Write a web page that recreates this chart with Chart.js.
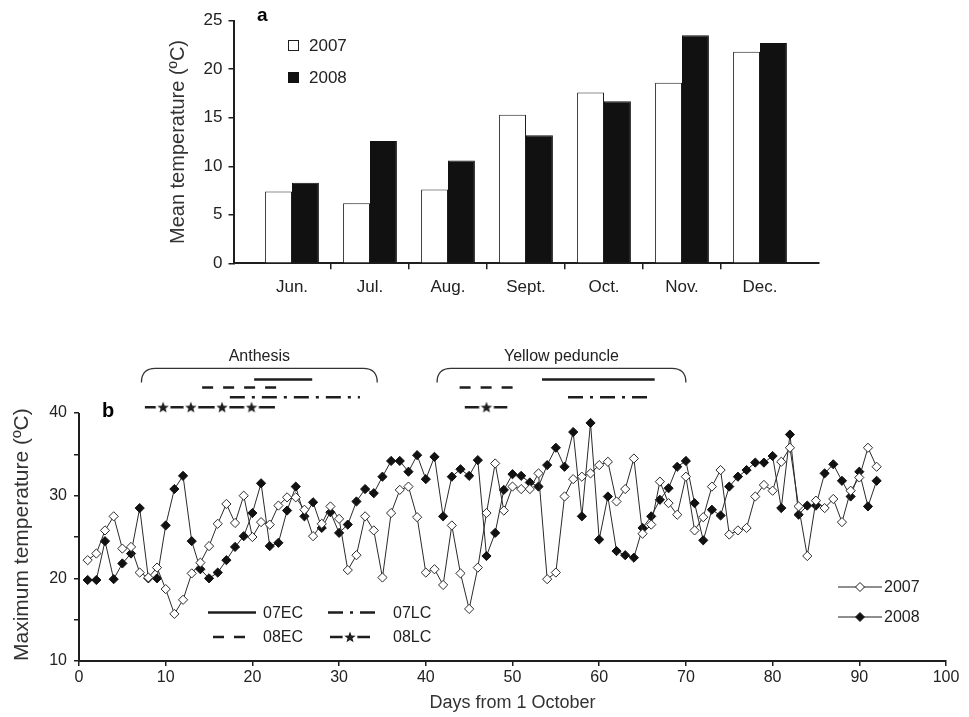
<!DOCTYPE html>
<html>
<head>
<meta charset="utf-8">
<script src="https://cdn.jsdelivr.net/npm/chart.js@4.4.1/dist/chart.umd.min.js"></script>
<style>
  html, body { margin: 0; padding: 0; background: #fff; }
  #wrap { position: relative; width: 969px; height: 717px; overflow: hidden; }
  #chartA { position: absolute; left: 0; top: 0; }
  #chartB { position: absolute; left: 0; top: 330px; }
</style>
</head>
<body>
<div id="wrap">
  <canvas id="chartA" width="969" height="310"></canvas>
  <canvas id="chartB" width="969" height="387"></canvas>
</div>
<script>
// ---- panel a: monthly mean temperature ----
const months = ['Jun.', 'Jul.', 'Aug.', 'Sept.', 'Oct.', 'Nov.', 'Dec.'];
const mean2007 = [7.4, 6.2, 7.6, 15.3, 17.6, 18.6, 21.8];
const mean2008 = [8.3, 12.6, 10.6, 13.2, 16.7, 23.5, 22.7];

// ---- panel b: daily maximum temperature from 1 October ----
const days = Array.from({ length: 92 }, (_, i) => i + 1);
const max2007 = [
  22.2, 23.0, 25.8, 27.5, 23.6, 23.8, 20.7, 20.1, 21.3, 18.7,
  15.7, 17.4, 20.6, 21.9, 23.9, 26.6, 29.0, 26.7, 30.0, 25.0,
  26.8, 26.5, 28.8, 29.8, 29.8, 28.3, 25.1, 26.6, 28.7, 27.2,
  21.0, 22.8, 27.5, 25.8, 20.1, 27.9, 30.7, 31.1, 27.4, 20.7,
  21.1, 19.2, 26.4, 20.6, 16.3, 21.3, 27.9, 33.9, 28.2, 31.1,
  30.8, 30.8, 32.7, 19.9, 20.7, 29.9, 32.0, 32.3, 32.7, 33.7,
  34.1, 29.3, 30.8, 34.5, 25.4, 26.5, 31.7, 29.1, 27.7, 32.3,
  25.8, 27.4, 31.1, 33.1, 25.3, 25.8, 26.1, 29.9, 31.3, 30.6,
  34.1, 35.8, 28.7, 22.7, 29.4, 28.5, 29.6, 26.8, 30.6, 32.2,
  35.8, 33.5
];
const max2008 = [
  19.8, 19.8, 24.5, 19.9, 21.8, 23.0, 28.5, 20.0, 20.0, 26.4,
  30.8, 32.4, 24.5, 21.1, 20.0, 20.7, 22.2, 23.8, 25.1, 27.9,
  31.5, 23.9, 24.3, 28.2, 31.1, 27.5, 29.2, 26.1, 28.0, 25.5,
  26.5, 29.3, 30.8, 30.3, 32.3, 34.2, 34.2, 32.9, 34.9, 32.0,
  34.7, 27.5, 32.3, 33.2, 32.4, 34.3, 22.7, 25.5, 30.7, 32.6,
  32.4, 31.6, 31.1, 33.7, 35.8, 33.5, 37.7, 27.5, 38.8, 24.7,
  29.9, 23.3, 22.8, 22.5, 26.1, 27.5, 29.5, 30.9, 33.5, 34.2,
  29.1, 24.6, 28.3, 27.6, 31.1, 32.3, 33.1, 34.0, 34.0, 34.8,
  28.5, 37.4, 27.7, 28.8, 28.8, 32.7, 33.8, 31.8, 29.9, 32.9,
  28.7, 31.8
];

// flowering / peduncle periods (start day, end day)
const stageNames = ['Anthesis', 'Yellow peduncle'];
const stageSpans = [[7.2, 34.4], [41.3, 70.0]];
const ec07Spans = [[20.2, 26.9], [53.4, 66.4]];
const ec08Spans = [[14.2, 23.4], [43.9, 50.3]];
const lc07Spans = [[17.4, 32.4], [56.4, 66.2]];
const lc08Spans = [[7.6, 22.6], [44.5, 49.4]];
const lc08Stars = [[9.7, 12.9, 16.5, 19.9], [47.0]];

Chart.defaults.font.family = "'Liberation Sans', Arial, sans-serif";
Chart.defaults.color = '#222';

const INK = '#1e1e1e';
const narrowFont = "'Liberation Sans Narrow', 'Liberation Sans', Arial, sans-serif";

// y levels (in °C units above the axis) for the period marks
const BRACKET_TOP = 45.4, BRACKET_END = 43.7, BRACKET_TEXT = 46.8;
const LEVEL_EC07 = 44.05, LEVEL_EC08 = 43.1, LEVEL_LC07 = 41.9, LEVEL_LC08 = 40.7;

function spanPoints(spans, level) {
  const pts = [];
  spans.forEach(([a, b]) => {
    pts.push({ x: a, y: level }, { x: b, y: level }, { x: b, y: null });
  });
  return pts;
}

function starPoints(spans, stars, level) {
  const pts = [];
  spans.forEach(([a, b], i) => {
    pts.push({ x: a, y: level, star: false });
    stars[i].forEach(s => pts.push({ x: s, y: level, star: true }));
    pts.push({ x: b, y: level, star: false }, { x: b, y: null, star: false });
  });
  return pts;
}

// small filled star on a white disc, so the line breaks around it
function makeStar() {
  const c = document.createElement('canvas');
  c.width = 20; c.height = 20;
  const g = c.getContext('2d');
  g.fillStyle = '#fff';
  g.beginPath(); g.arc(10, 10, 7.5, 0, Math.PI * 2); g.fill();
  g.fillStyle = INK;
  g.beginPath();
  for (let i = 0; i < 10; i++) {
    const r = i % 2 ? 2.6 : 6;
    const a = -Math.PI / 2 + i * Math.PI / 5;
    g.lineTo(10 + r * Math.cos(a), 10.5 + r * Math.sin(a));
  }
  g.closePath(); g.fill();
  return c;
}
const starImg = makeStar();

// ---------------- panel a ----------------
const panelAExtras = {
  id: 'panelAExtras',
  afterDraw(chart) {
    const ctx = chart.ctx;
    ctx.save();
    ctx.fillStyle = '#000';
    ctx.font = "bold 19px 'Liberation Sans', Arial, sans-serif";
    ctx.textBaseline = 'middle';
    ctx.fillText('a', 257, 16);
    // legend boxes
    ctx.font = "17px " + narrowFont;
    ctx.lineWidth = 1;
    ctx.strokeStyle = INK;
    ctx.fillStyle = '#fff';
    ctx.fillRect(288, 40, 11, 11);
    ctx.strokeRect(288.5, 40.5, 10, 10);
    ctx.fillStyle = '#111';
    ctx.fillRect(288, 72, 11, 11);
    ctx.fillStyle = '#222';
    ctx.fillText('2007', 309, 46);
    ctx.fillText('2008', 309, 78);
    ctx.restore();
  }
};

// months sit on a numeric axis so the frame can reach past the outer bars;
// only the boundaries between months get a tick mark
const monthTick = ctx => (ctx.type === 'tick' && ctx.index > 0 ? INK : 'rgba(0,0,0,0)');

new Chart(document.getElementById('chartA'), {
  type: 'bar',
  data: {
    datasets: [
      { label: '2007', data: mean2007.map((v, i) => ({ x: i, y: v })), backgroundColor: '#fff', borderColor: INK, borderWidth: 1 },
      { label: '2008', data: mean2008.map((v, i) => ({ x: i, y: v })), backgroundColor: '#111', borderColor: '#111', borderWidth: 1 }
    ]
  },
  options: {
    responsive: false,
    animation: false,
    layout: { padding: { top: 20.7, right: 150.5, left: 0, bottom: 0 } },
    plugins: { legend: { display: false }, tooltip: { enabled: false } },
    datasets: { bar: { categoryPercentage: 0.69, barPercentage: 1.0 } },
    scales: {
      x: {
        type: 'linear', min: -0.75, max: 6.75, offset: false,
        afterBuildTicks(scale) {
          scale.ticks = months.map((_, i) => ({ value: i }));
        },
        grid: { display: true, drawOnChartArea: false, tickLength: 6, tickColor: monthTick, lineWidth: 1.5, offset: true },
        border: { display: true, color: INK, width: 2 },
        ticks: {
          font: { size: 17, family: narrowFont }, color: '#222', padding: 8,
          callback: v => months[v]
        },
        afterFit(scale) { scale.height = 46.7; }
      },
      y: {
        min: 0, max: 25,
        ticks: { stepSize: 5, font: { size: 17, family: narrowFont }, color: '#222', padding: 6 },
        grid: { display: true, drawOnChartArea: false, tickLength: 5, tickColor: INK, lineWidth: 1.5 },
        border: { display: true, color: INK, width: 2 },
        title: {
          display: true, text: 'Mean temperature (ºC)', color: '#333',
          font: { size: 20 }, padding: { top: 166, bottom: 0 }
        },
        afterFit(scale) { scale.width = 233.5; }
      }
    }
  },
  plugins: [panelAExtras]
});

// ---------------- panel b ----------------
const panelBExtras = {
  id: 'panelBExtras',
  afterDraw(chart) {
    const ctx = chart.ctx;
    const xs = chart.scales.x, ys = chart.scales.y;
    const area = chart.chartArea;
    ctx.save();

    // y axis line, only over the temperature range
    ctx.strokeStyle = INK;
    ctx.lineWidth = 2;
    ctx.beginPath();
    ctx.moveTo(area.left, ys.getPixelForValue(10) + 1);
    ctx.lineTo(area.left, ys.getPixelForValue(40));
    ctx.stroke();

    // period brackets with their names
    ctx.lineWidth = 1.3;
    ctx.strokeStyle = '#333';
    ctx.fillStyle = '#222';
    ctx.font = "16px 'Liberation Sans', Arial, sans-serif";
    ctx.textAlign = 'center';
    ctx.textBaseline = 'middle';
    stageSpans.forEach(([a, b], i) => {
      const x0 = xs.getPixelForValue(a), x1 = xs.getPixelForValue(b);
      const yt = ys.getPixelForValue(BRACKET_TOP), yb = ys.getPixelForValue(BRACKET_END);
      const r = 14;
      ctx.beginPath();
      ctx.moveTo(x0, yb);
      ctx.quadraticCurveTo(x0, yt, x0 + r, yt);
      ctx.lineTo(x1 - r, yt);
      ctx.quadraticCurveTo(x1, yt, x1, yb);
      ctx.stroke();
      ctx.fillText(stageNames[i], (x0 + x1) / 2, ys.getPixelForValue(BRACKET_TEXT));
    });

    // panel letter
    ctx.textAlign = 'left';
    ctx.fillStyle = '#000';
    ctx.font = "bold 20px 'Liberation Sans', Arial, sans-serif";
    ctx.fillText('b', area.left + 23, ys.getPixelForValue(40) - 2);

    // line-style key inside the plot
    ctx.font = "16px 'Liberation Sans', Arial, sans-serif";
    ctx.fillStyle = '#222';
    ctx.strokeStyle = INK;
    const l = area.left, btm = area.bottom;
    const keys = [
      { x0: 129, x1: 177, y: -48.5, dash: [], text: '07EC', tx: 184 },
      { x0: 249, x1: 296, y: -48.5, dash: [15, 7, 3, 7], text: '07LC', tx: 314 },
      { x0: 134, x1: 170, y: -24, dash: [11, 10], text: '08EC', tx: 184 },
      { x0: 251, x1: 291, y: -24, dash: [], text: '08LC', tx: 314, star: true }
    ];
    keys.forEach(k => {
      ctx.lineWidth = 2.5;
      ctx.setLineDash(k.dash);
      ctx.beginPath();
      ctx.moveTo(l + k.x0, btm + k.y);
      ctx.lineTo(l + k.x1, btm + k.y);
      ctx.stroke();
      ctx.setLineDash([]);
      if (k.star) ctx.drawImage(starImg, l + (k.x0 + k.x1) / 2 - 10, btm + k.y - 10);
      ctx.fillText(k.text, l + k.tx, btm + k.y + 1);
    });

    // series key, lower right
    const r = area.right;
    [{ y: -74, fill: '#fff', text: '2007' }, { y: -44, fill: '#111', text: '2008' }].forEach(s => {
      ctx.lineWidth = 1;
      ctx.strokeStyle = INK;
      ctx.beginPath();
      ctx.moveTo(r - 108, btm + s.y);
      ctx.lineTo(r - 64, btm + s.y);
      ctx.stroke();
      const cx = r - 86, cy = btm + s.y, d = 4.5;
      ctx.beginPath();
      ctx.moveTo(cx, cy - d); ctx.lineTo(cx + d, cy); ctx.lineTo(cx, cy + d); ctx.lineTo(cx - d, cy);
      ctx.closePath();
      ctx.fillStyle = s.fill; ctx.fill(); ctx.stroke();
      ctx.fillStyle = '#222';
      ctx.fillText(s.text, r - 62, cy + 1);
    });
    ctx.restore();
  }
};

const lineBase = { pointRadius: 0, tension: 0, spanGaps: false, borderColor: INK, fill: false };

new Chart(document.getElementById('chartB'), {
  type: 'line',
  data: {
    datasets: [
      {
        label: '2007',
        data: days.map((d, i) => ({ x: d, y: max2007[i] })),
        borderColor: '#2a2a2a', borderWidth: 1, tension: 0,
        pointStyle: 'rectRot', pointRadius: 4.6,
        pointBackgroundColor: '#fff', pointBorderColor: '#2a2a2a', pointBorderWidth: 1
      },
      {
        label: '2008',
        data: days.map((d, i) => ({ x: d, y: max2008[i] })),
        borderColor: '#2a2a2a', borderWidth: 1, tension: 0,
        pointStyle: 'rectRot', pointRadius: 4.6,
        pointBackgroundColor: '#111', pointBorderColor: '#111', pointBorderWidth: 1
      },
      Object.assign({ label: '07EC', data: spanPoints(ec07Spans, LEVEL_EC07), borderWidth: 2.5 }, lineBase),
      Object.assign({ label: '08EC', data: spanPoints(ec08Spans, LEVEL_EC08), borderWidth: 2.5, borderDash: [11, 10] }, lineBase),
      Object.assign({ label: '07LC', data: spanPoints(lc07Spans, LEVEL_LC07), borderWidth: 2.5, borderDash: [15, 7, 3, 7] }, lineBase),
      Object.assign({ label: '08LC', data: starPoints(lc08Spans, lc08Stars, LEVEL_LC08), borderWidth: 2.5 }, lineBase, {
        pointStyle: starImg,
        pointRadius: ctx => (ctx.raw && ctx.raw.star ? 5 : 0)
      })
    ]
  },
  options: {
    responsive: false,
    animation: false,
    layout: { padding: { top: 16.9, right: 23, left: 0, bottom: 0 } },
    plugins: { legend: { display: false }, tooltip: { enabled: false } },
    scales: {
      x: {
        type: 'linear', min: 0, max: 100,
        ticks: { stepSize: 10, font: { size: 16 }, color: '#222', padding: 2 },
        grid: { display: true, drawOnChartArea: false, tickLength: 5, tickColor: INK, lineWidth: 1.5 },
        border: { display: true, color: INK, width: 2 },
        title: { display: true, text: 'Days from 1 October', color: '#333', font: { size: 18 }, padding: { top: 0, bottom: 3 } },
        afterFit(scale) { scale.height = 56; }
      },
      y: {
        min: 10, max: 48,
        afterBuildTicks(scale) {
          scale.ticks = [10, 15, 20, 25, 30, 35, 40].map(v => ({ value: v }));
        },
        ticks: {
          font: { size: 16 }, color: '#222', padding: 7,
          callback: v => (v % 10 === 0 ? String(v) : '')
        },
        grid: { display: true, drawOnChartArea: false, tickLength: 5, tickColor: INK, lineWidth: 1.5 },
        border: { display: false },
        title: {
          display: true, text: 'Maximum temperature (ºC)', color: '#333', align: 'start',
          font: { size: 21 }, padding: { top: 9.4, bottom: 0 }
        },
        afterFit(scale) { scale.width = 79; }
      }
    }
  },
  plugins: [panelBExtras]
});
</script>
</body>
</html>
